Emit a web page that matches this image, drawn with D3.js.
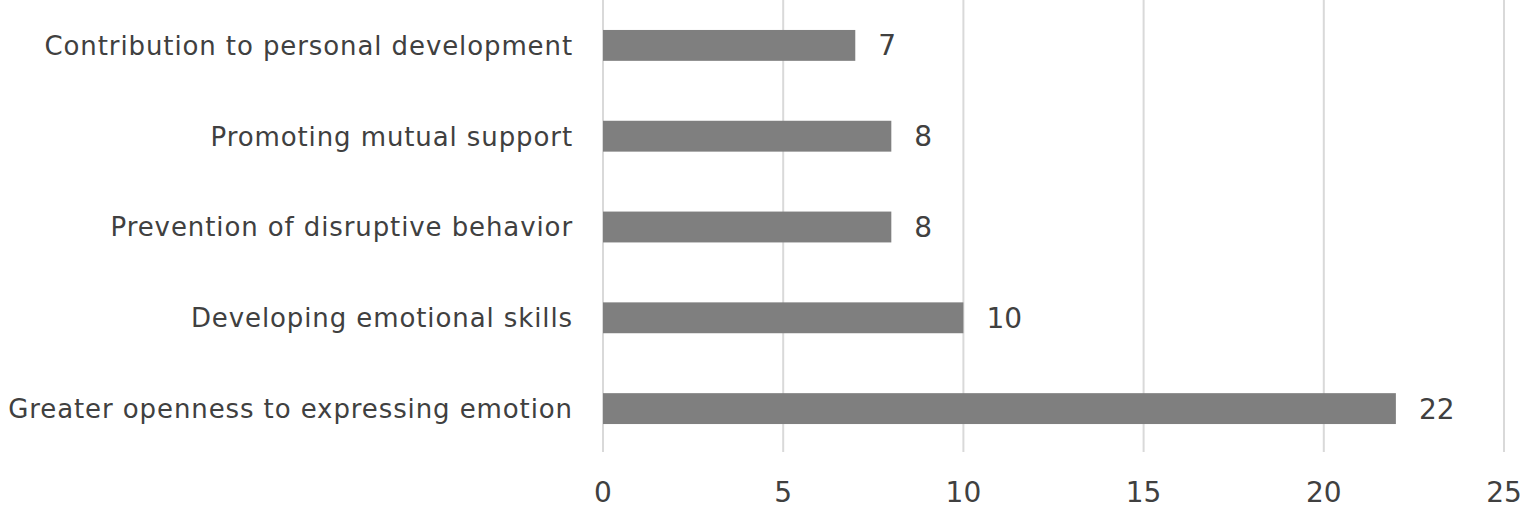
<!DOCTYPE html>
<html><head><meta charset="utf-8">
<script src="https://cdn.jsdelivr.net/npm/d3@7"></script>
<style>body{margin:0;background:#fff}svg{display:block}</style>
</head><body>
<svg id="c" width="1535" height="513"></svg>
<script>
const categories = ["Contribution to personal development","Promoting mutual support","Prevention of disruptive behavior","Developing emotional skills","Greater openness to expressing emotion"];
const values = [7, 8, 8, 10, 22];
const ticks = [0, 5, 10, 15, 20, 25];

const svg = d3.select("#c");
const font = "'DejaVu Sans', sans-serif";
const x = d3.scaleLinear().domain([0, 25]).range([603, 1504]);
const y = d3.scaleBand().domain(categories).range([0, 454]).paddingInner(0.66).paddingOuter(0.33);

svg.append("g").selectAll("line").data(ticks).join("line")
  .attr("x1", d => x(d)).attr("x2", d => x(d)).attr("y1", 0).attr("y2", 452)
  .attr("stroke", "#d9d9d9").attr("stroke-width", 2);

svg.append("g").selectAll("rect").data(values).join("rect")
  .attr("x", x(0)).attr("y", (d, i) => y(categories[i]))
  .attr("width", d => x(d) - x(0)).attr("height", y.bandwidth())
  .attr("fill", "#7f7f7f");

svg.append("g").selectAll("text").data(values).join("text")
  .attr("x", d => x(d) + 23).attr("y", (d, i) => y(categories[i]) + y.bandwidth() / 2)
  .attr("dy", "0.36em").attr("font-family", font).attr("font-size", 28).attr("fill", "#404040")
  .text(d => d);

svg.append("g").selectAll("text").data(categories).join("text")
  .attr("x", 573).attr("y", d => y(d) + y.bandwidth() / 2)
  .attr("dy", "0.36em").attr("text-anchor", "end")
  .attr("font-family", font).attr("font-size", 26).attr("letter-spacing", 0.9).attr("fill", "#404040")
  .text(d => d);

svg.append("g").selectAll("text").data(ticks).join("text")
  .attr("x", d => x(d)).attr("y", 492).attr("dy", "0.36em").attr("text-anchor", "middle")
  .attr("font-family", font).attr("font-size", 28).attr("fill", "#404040")
  .text(d => d);
</script>
</body></html>
